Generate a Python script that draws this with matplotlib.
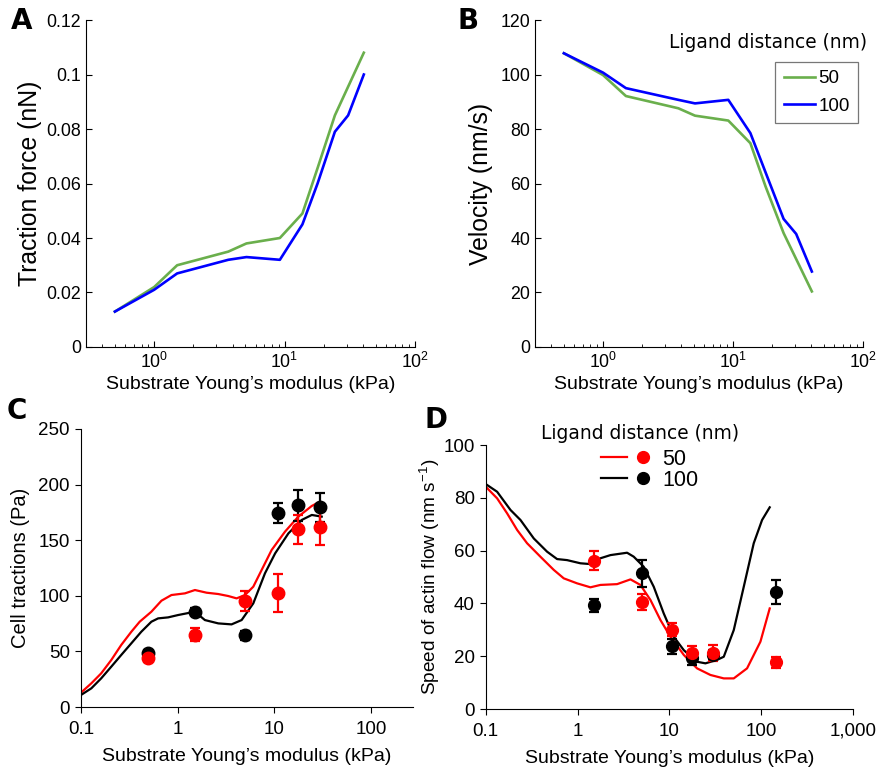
import matplotlib
matplotlib.use("Agg")
import matplotlib.pyplot as plt
from matplotlib.lines import Line2D
from matplotlib.legend_handler import HandlerTuple
from matplotlib.ticker import FixedLocator, FixedFormatter, LogLocator, NullFormatter

plt.rcParams['font.family'] = ['Liberation Sans', 'DejaVu Sans']
plt.rcParams['mathtext.fontset'] = 'custom'
plt.rcParams['mathtext.rm'] = 'Liberation Sans'

# --- model curves, traction force (A) ---
a_x_50 = [0.5, 1.0, 1.5, 3.7, 5.1, 9.2, 13.7, 18.0, 24.3, 40.5]
a_y_50 = [0.013, 0.022, 0.030, 0.035, 0.038, 0.040, 0.049, 0.066, 0.085, 0.108]
a_x_100 = [0.5, 1.0, 1.5, 3.7, 5.1, 9.2, 13.7, 17.9, 24.3, 30.7, 40.5]
a_y_100 = [0.013, 0.021, 0.027, 0.032, 0.033, 0.032, 0.045, 0.060, 0.079, 0.085, 0.100]

# --- model curves, velocity (B) ---
b_x_50 = [0.5, 1.0, 1.5, 3.8, 5.1, 9.2, 13.6, 17.8, 24.5, 40.4]
b_y_50 = [107.8, 99.8, 92.1, 87.6, 84.9, 83.1, 74.8, 58.9, 41.8, 20.4]
b_x_100 = [0.5, 1.0, 1.5, 3.8, 5.1, 9.2, 13.6, 18.3, 24.5, 30.6, 40.4]
b_y_100 = [107.8, 100.7, 95.0, 90.7, 89.4, 90.7, 78.5, 62.6, 47.0, 41.5, 27.7]

# --- cell tractions (C) ---
c_line_x_50 = [0.1, 0.128, 0.162, 0.206, 0.261, 0.332, 0.405, 0.535, 0.68, 0.863, 1.19,
               1.51, 1.99, 2.63, 3.34, 4.07, 4.97, 6.06, 7.39, 9.38, 12.9, 17.7, 24.4, 29.7]
c_line_y_50 = [12.9, 21.3, 30.3, 42.3, 55.8, 67.7, 76.7, 85.7, 95.6, 100.7, 102.2,
               105.2, 102.8, 101.6, 99.8, 97.7, 100.7, 108.2, 123.2, 141.2, 157.7, 171.2,
               180.8, 184.7]
c_line_x_100 = [0.1, 0.128, 0.162, 0.206, 0.261, 0.332, 0.421, 0.535, 0.628, 0.797, 1.01,
                1.51, 1.912, 2.63, 3.61, 4.59, 6.06, 8.0, 10.2, 14.0, 19.2, 24.4, 30.9]
c_line_y_100 = [10.8, 16.8, 25.8, 36.3, 46.8, 57.3, 67.7, 76.7, 79.7, 80.6, 82.7,
                85.7, 78.2, 75.2, 74.3, 78.2, 93.2, 120.2, 138.2, 156.2, 168.2, 172.7,
                171.2]
c_pts_x = [0.49, 1.5, 5.0, 10.8, 17.7, 30.0]
c_pts_50 = [43.8, 65.2, 95.6, 102.2, 159.9, 161.7]
c_err_50 = [3, 6, 9, 17, 13, 16]
c_pts_100 = [48.3, 85.6, 64.6, 174.2, 181.2, 179.7]
c_err_100 = [3, 3, 4, 9, 14, 13]

# --- actin flow speed (D) ---
d_line_x_50 = [0.1, 0.133, 0.171, 0.22, 0.282, 0.394, 0.551, 0.708, 0.99, 1.383, 1.778,
               2.7, 3.78, 4.85, 6.24, 8.02, 10.3, 14.4, 20.1, 28.1, 39.3, 50.5, 70.5,
               98.6, 124.5]
d_line_y_50 = [84.2, 79.8, 74.1, 67.8, 62.8, 57.7, 52.7, 49.5, 47.6, 46.1, 47.0,
               47.3, 49.1, 47.0, 41.3, 33.7, 27.4, 20.5, 15.4, 12.9, 11.6, 11.6, 15.4,
               25.5, 38.1]
d_line_x_100 = [0.1, 0.133, 0.186, 0.239, 0.334, 0.466, 0.599, 0.77, 1.076, 1.383, 1.778,
                2.286, 3.47, 4.1, 5.27, 6.78, 8.71, 11.2, 14.4, 20.1, 24.8, 33.2, 39.3,
                50.5, 64.9, 83.4, 102.8, 124.5]
d_line_y_100 = [85.2, 82.3, 75.4, 71.6, 64.6, 59.6, 56.8, 56.4, 55.2, 54.9, 57.1,
                58.3, 59.2, 57.7, 53.9, 46.3, 36.2, 27.4, 22.3, 17.9, 17.3, 18.6, 19.8,
                29.9, 46.3, 62.8, 71.6, 76.4]
d_pts_x = [1.5, 5.0, 10.8, 17.8, 29.7, 145]
d_pts_50 = [56.2, 40.5, 30.0, 21.2, 21.2, 17.7]
d_err_50 = [3.7, 3, 2.5, 2.5, 3, 2]
d_pts_100 = [39.3, 51.4, 23.7, 19.3, 20.5, 44.3]
d_err_100 = [2.5, 5, 3, 2.5, 2, 4.5]

green = '#6aaf4c'
blue = '#0000ff'

fig = plt.figure(figsize=(8.8, 7.67), dpi=100)
axA = fig.add_axes([0.0977, 0.5476, 0.3739, 0.4263])
axB = fig.add_axes([0.608, 0.5476, 0.3727, 0.4263])
axC = fig.add_axes([0.092, 0.0782, 0.377, 0.3625])
axD = fig.add_axes([0.552, 0.0756, 0.417, 0.3442])


def model_axes(ax):
    ax.set_xscale('log')
    ax.set_xlim(0.3, 100)
    ax.spines['top'].set_visible(False)
    ax.spines['right'].set_visible(False)
    ax.tick_params(which='both', direction='in', labelsize=12.8)
    ax.tick_params(which='major', length=4)
    ax.tick_params(which='minor', length=2.5)
    ax.xaxis.set_major_locator(LogLocator(base=10, numticks=10))
    ax.xaxis.set_minor_locator(LogLocator(base=10, subs=range(2, 10), numticks=10))
    ax.xaxis.set_minor_formatter(NullFormatter())
    ax.set_xlabel("Substrate Young\u2019s modulus (kPa)", fontsize=14, labelpad=3)


# A
axA.plot(a_x_50, a_y_50, color=green, lw=1.9)
axA.plot(a_x_100, a_y_100, color=blue, lw=1.9)
model_axes(axA)
axA.set_ylim(0, 0.12)
axA.set_yticks([0, 0.02, 0.04, 0.06, 0.08, 0.1, 0.12])
axA.set_yticklabels(['0', '0.02', '0.04', '0.06', '0.08', '0.1', '0.12'])
axA.set_ylabel('Traction force (nN)', fontsize=17.8, labelpad=3)

# B
lb50, = axB.plot(b_x_50, b_y_50, color=green, lw=1.9)
lb100, = axB.plot(b_x_100, b_y_100, color=blue, lw=1.9)
model_axes(axB)
axB.set_ylim(0, 120)
axB.set_yticks(range(0, 121, 20))
axB.set_ylabel('Velocity (nm/s)', fontsize=17.8, labelpad=5)
legB = axB.legend([lb50, lb100], ['50', '100'], loc='upper right',
                  bbox_to_anchor=(0.985, 0.872), fontsize=13.5, frameon=True,
                  fancybox=False, edgecolor='#555555', handlelength=1.65,
                  handletextpad=0.2, borderpad=0.45, labelspacing=0.55,
                  borderaxespad=0)
legB.get_frame().set_linewidth(0.9)
axB.text(1.012, 0.93, 'Ligand distance (nm)', transform=axB.transAxes,
         ha='right', va='center', fontsize=13.4, family='DejaVu Sans')


def data_axes(ax):
    ax.set_xscale('log')
    ax.spines['top'].set_visible(False)
    ax.spines['right'].set_visible(False)
    ax.tick_params(which='major', direction='out', length=4, pad=6, labelsize=13.5)
    ax.tick_params(which='minor', length=0)
    ax.set_xlabel("Substrate Young\u2019s modulus (kPa)", fontsize=14, labelpad=7)


# C
axC.plot(c_line_x_50, c_line_y_50, color='red', lw=1.6)
axC.plot(c_line_x_100, c_line_y_100, color='black', lw=1.6)
axC.errorbar(c_pts_x, c_pts_100, yerr=c_err_100, fmt='o', color='black', ms=9,
             capsize=3.5, elinewidth=1.6, capthick=1.6)
axC.errorbar(c_pts_x, c_pts_50, yerr=c_err_50, fmt='o', color='red', ms=9,
             capsize=3.5, elinewidth=1.6, capthick=1.6)
data_axes(axC)
axC.set_xlim(0.1, 270)
axC.set_ylim(0, 250)
axC.xaxis.set_major_locator(FixedLocator([0.1, 1, 10, 100]))
axC.xaxis.set_major_formatter(FixedFormatter(['0.1', '1', '10', '100']))
axC.set_yticks(range(0, 251, 50))
axC.tick_params(axis='y', pad=4)
axC.set_ylabel('Cell tractions (Pa)', fontsize=14.5, labelpad=6)

# D
lr, = axD.plot(d_line_x_50, d_line_y_50, color='red', lw=1.6)
lk, = axD.plot(d_line_x_100, d_line_y_100, color='black', lw=1.6)
axD.errorbar(d_pts_x, d_pts_100, yerr=d_err_100, fmt='o', color='black', ms=8.5,
             capsize=3.5, elinewidth=1.6, capthick=1.6)
axD.errorbar(d_pts_x, d_pts_50, yerr=d_err_50, fmt='o', color='red', ms=8.5,
             capsize=3.5, elinewidth=1.6, capthick=1.6)
data_axes(axD)
axD.set_xlim(0.1, 1000)
axD.set_ylim(0, 100)
axD.xaxis.set_major_locator(FixedLocator([0.1, 1, 10, 100, 1000]))
axD.xaxis.set_major_formatter(FixedFormatter(['0.1', '1', '10', '100', '1,000']))
axD.set_yticks(range(0, 101, 20))
axD.tick_params(axis='y', pad=4)
axD.set_ylabel('Speed of actin flow (nm s$^{-1}$)', fontsize=13.7, labelpad=1)
mr = Line2D([], [], ls='none', marker='o', color='red', ms=8.5)
mk = Line2D([], [], ls='none', marker='o', color='black', ms=8.5)
axD.legend([(lr, mr), (lk, mk)], ['50', '100'],
           handler_map={tuple: HandlerTuple(ndivide=None, pad=0.15)},
           loc='upper left', bbox_to_anchor=(0.313, 0.985), frameon=False,
           fontsize=15.5, handlelength=2.6, handletextpad=0.25,
           labelspacing=0.0, borderpad=0, borderaxespad=0)
axD.text(0.42, 1.045, 'Ligand distance (nm)', transform=axD.transAxes,
         ha='center', va='center', fontsize=13.4, family='DejaVu Sans')

# panel letters
for lbl, x, y in [('A', 0.012, 0.972), ('B', 0.52, 0.972),
                  ('C', 0.008, 0.464), ('D', 0.482, 0.452)]:
    fig.text(x, y, lbl, fontsize=20, fontweight='bold', family='DejaVu Sans',
             va='center')

fig.savefig('out.png', dpi=100)
